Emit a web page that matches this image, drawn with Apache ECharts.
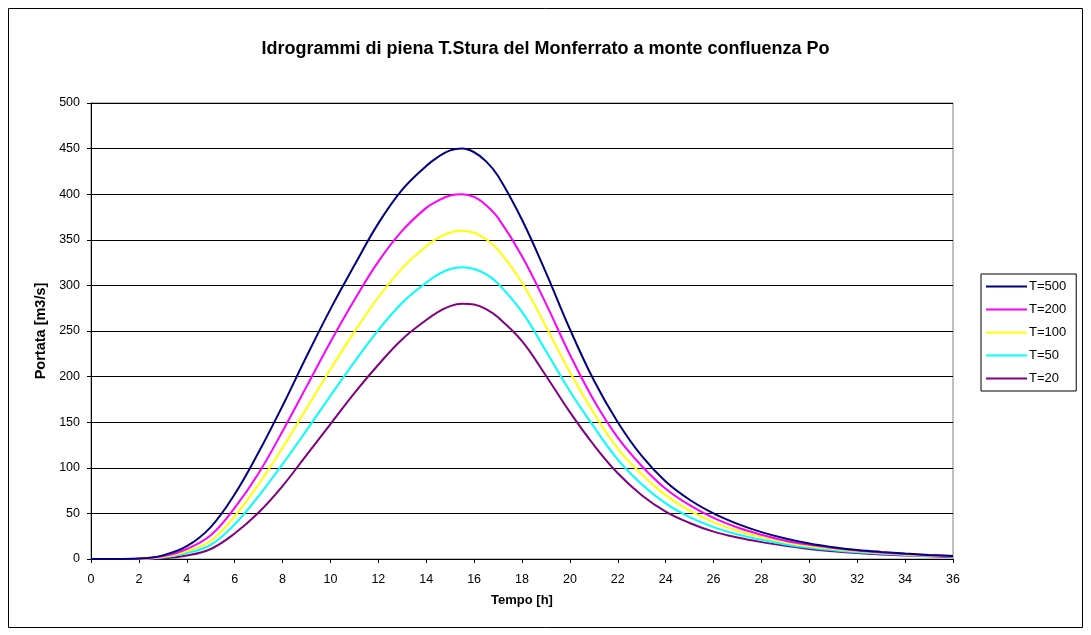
<!DOCTYPE html>
<html>
<head>
<meta charset="utf-8">
<script src="https://cdn.jsdelivr.net/npm/echarts@6/dist/echarts.min.js"></script>
<style>
html,body{margin:0;padding:0;background:#fff;}
#c{width:1091px;height:635px;}
</style>
</head>
<body>
<div id="c"></div>
<script>
const hours = [0,1,2,3,4,5,6,7,8,9,10,11,12,13,14,14.5,15,15.5,16,16.5,17,18,19,20,21,22,23,24,25,26,27,28,29,30,31,32,33,34,35,36];
const seriesNames = ['T=500','T=200','T=100','T=50','T=20'];
const t500 = [0,0,0.5,4,14,35,71,117,168,222,274,322,368,405,431,441,448,450,446,436,420,372,314,252,196,150,113,85,65,50,38.5,29.5,22.5,17,13,10,7.8,6,4.5,3.3];
const t200 = [0,0,0.4,3,11,26,56,94,140,189,238,284,326,360,385,393,398.5,400,397,388,374,332,280,224,174,133,102,77,59,45,34.5,26.5,20,15.5,12,9.3,7.2,5.5,4.2,3.2];
const t100 = [0,0,0.3,2.2,8.5,20,47,82,122,165,208,249,287,319,343,352,358,360,357.7,350.6,339,303,255,205,160,121,93,70,53,40.5,31,24,18.5,14,11,8.5,6.6,5,3.9,3];
const t50  = [0,0,0.2,1.6,6.5,15.5,38,69,104,141,179,216,251,281,303,312,318,320,318,312.3,302,271,228,184,145,109,82,61,46,35,27,21,16,12.3,9.6,7.5,5.8,4.5,3.5,2.7];
const t20  = [0,0,0.1,0.9,3.8,11,28,51,80,114,148,182,213,241,262,271,277.3,279.9,279,274,265,239,201,161,125,94,70,52,39.5,30,23.5,18.5,14.5,11,8.5,6.5,5,3.9,3,2.2];
const colors = ['#000080','#FF00FF','#FFFF00','#00FFFF','#800080'];
const xTicks = {min:0, max:36, interval:2};
const yTicks = {min:0, max:500, interval:50};

const allData = [t500,t200,t100,t50,t20];
const chart = echarts.init(document.getElementById('c'), null, {renderer:'canvas'});
const font = 'Liberation Sans, Arial, sans-serif';
chart.setOption({
  animation:false,
  backgroundColor:'#fff',
  title:{
    text:'Idrogrammi di piena T.Stura del Monferrato a monte confluenza Po',
    left:'center', top:35,
    textStyle:{fontFamily:font,fontSize:18,fontWeight:'bold',color:'#000'}
  },
  graphic:[{
    type:'rect', shape:{x:8.5,y:8.5,width:1074,height:619},
    style:{fill:'none',stroke:'#000',lineWidth:1}, silent:true, z:-1
  }],
  legend:{
    orient:'vertical', left:981, top:274,
    data:seriesNames.map(n=>({name:n, icon:'rect'})),
    itemWidth:41, itemHeight:2, itemGap:10,
    borderColor:'#000', borderWidth:1, padding:[6,10,6,5],
    textStyle:{fontFamily:font,fontSize:13,color:'#000',padding:[0,0,0,-3]}
  },
  grid:{left:91,right:138,top:103,bottom:76,show:true,borderColor:'#808080',borderWidth:1,containLabel:false},
  xAxis:{
    type:'value', min:xTicks.min, max:xTicks.max, interval:xTicks.interval,
    name:'Tempo [h]', nameLocation:'middle', nameGap:35,
    nameTextStyle:{fontFamily:font,fontSize:13,fontWeight:'bold',color:'#000'},
    axisLine:{lineStyle:{color:'#000',width:1}},
    axisTick:{show:true,inside:false,length:4,lineStyle:{color:'#000'}},
    axisLabel:{fontFamily:font,fontSize:12.5,color:'#000',margin:14},
    splitLine:{show:false}
  },
  yAxis:{
    type:'value', min:yTicks.min, max:yTicks.max, interval:yTicks.interval,
    name:'Portata [m3/s]', nameLocation:'middle', nameGap:37, nameRotate:90,
    nameTextStyle:{fontFamily:font,fontSize:14.5,fontWeight:'bold',color:'#000'},
    axisLine:{show:true,lineStyle:{color:'#000',width:1}},
    axisTick:{show:true,inside:false,length:4,lineStyle:{color:'#000'}},
    axisLabel:{fontFamily:font,fontSize:12.5,color:'#000',margin:11},
    splitLine:{show:true,lineStyle:{color:'#000',width:1}}
  },
  series: seriesNames.map((n,i)=>({
    name:n, type:'line', smooth:0.4, symbol:'none', showSymbol:false,
    data: hours.map((h,k)=>[h, allData[i][k]]),
    lineStyle:{color:colors[i],width:2},
    itemStyle:{color:colors[i]},
    z: 10 - i
  }))
});
</script>
</body>
</html>
